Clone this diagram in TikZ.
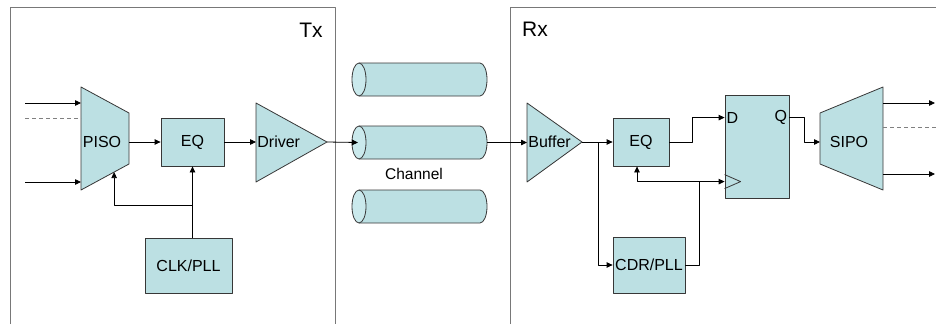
\documentclass[tikz,border=0pt]{standalone}
\usepackage{fontspec}
\setmainfont{Liberation Sans}
\usetikzlibrary{arrows.meta,calc}
\definecolor{blockfill}{RGB}{188,224,227}
\definecolor{chanend}{RGB}{202,233,236}
\definecolor{edge}{RGB}{55,55,55}
\definecolor{frame}{RGB}{120,120,120}
\begin{document}
\begin{tikzpicture}[x=1pt,y=-1pt,line join=round,line width=.8pt,
  font=\fontsize{16}{19}\selectfont,
  blk/.style={draw=edge,fill=blockfill,inner sep=0pt},
  arr/.style={-{Triangle[length=6pt,width=5.5pt]}},
  bus/.style={gray,dash pattern=on 4pt off 3pt},
  boxline/.style={draw=frame}]
\useasboundingbox (0,0) rectangle (936,324);
% Tx and Rx frames
\draw[boxline] (10,324) |- (335,7) -- (335,324);
\draw[boxline] (510,324) |- (936,7);
\node (tx) at (311,30) {\fontsize{21}{24}\selectfont Tx};
\node (rx) at (535,29) {\fontsize{21}{24}\selectfont Rx};
% Tx side
\coordinate (pisoA) at (81,87);
\coordinate (pisoB) at (129,113);
\coordinate (pisoC) at (129,164);
\coordinate (pisoD) at (81,190);
\draw[blk] (pisoA) -- (pisoB) -- (pisoC) -- (pisoD) -- cycle;
\node (piso) at (102,142) {PISO};
\coordinate (in1) at (25,103);
\coordinate (in2) at (25,118);
\coordinate (in3) at (25,182);
\draw[arr] (in1) -- (in1 -| pisoA);
\draw[bus] (in2) -- (in2 -| pisoA);
\draw[arr] (in3) -- (in3 -| pisoA);
\node[blk,minimum width=63pt,minimum height=48pt] (eqt) at (192.5,142) {EQ};
\draw[arr] (pisoB |- piso) -- (eqt);
\coordinate (drvA) at (256,103);
\coordinate (drvT) at (327,142);
\coordinate (drvB) at (256,182);
\draw[blk] (drvA) -- (drvT) -- (drvB) -- cycle;
\node[anchor=west,inner sep=0pt] (drv) at (257,142) {Driver};
\draw[arr] (eqt) -- (drvA |- eqt);
\node[blk,minimum width=87pt,minimum height=55pt] (clk) at (188.5,265.5) {CLK/PLL};
\draw[arr] (eqt.south |- clk.north) -- (eqt.south);
\coordinate (clkbr) at ($(eqt.south |- clk.north)+(0,-32)$);
\draw[arr] (clkbr) -| ($(pisoD)!0.69!(pisoC)$);
% channel
\foreach \n/\y in {ch1/79.5,ch2/142.5,ch3/206.5}{
  \draw[blk] (359,\y-16.5) -- (480,\y-16.5)
    arc[start angle=90,end angle=-90,x radius=7pt,y radius=16.5pt] -- (359,\y+16.5);
  \draw[draw=edge,fill=chanend] (359,\y) ellipse[x radius=7pt,y radius=16.5pt];
  \coordinate (\n) at (419.5,\y);
}
\draw[arr] (drvT) -- ($(ch2)+(-61.5,0)$);
\node (chlbl) at (414,174) {\fontsize{15.5}{18}\selectfont Channel};
% Rx side
\coordinate (bufA) at (527,103);
\coordinate (bufT) at (582,142);
\coordinate (bufB) at (527,182);
\draw[blk] (bufA) -- (bufT) -- (bufB) -- cycle;
\node[anchor=west,inner sep=0pt] (buf) at (528,142) {Buffer};
\draw[arr] ($(ch2)+(67.5,0)$) -- (bufA |- ch2);
\node[blk,minimum width=56pt,minimum height=48pt] (eqr) at (641,142) {EQ};
\coordinate (rxjn) at (598,142);
\draw[arr] (bufT) -- (eqr);
\node[blk,minimum width=72pt,minimum height=56pt] (cdr) at (649,265) {CDR/PLL};
\draw[arr] (rxjn) |- (cdr);
\node[blk,minimum width=64pt,minimum height=103pt] (ff) at (757,146.5) {};
\coordinate (ffd) at ($(ff.north west)+(0,23)$);
\coordinate (ffq) at ($(ff.north east)+(0,23)$);
\coordinate (ffclk) at ($(ff.north west)+(0,87)$);
\node[anchor=west,inner sep=1.5pt] (dlbl) at (ffd) {D};
\node[anchor=east,inner sep=2pt] (qlbl) at (ffq) {Q};
\draw[edge] ($(ffclk)+(0,-7)$) -- ($(ffclk)+(16,0)$) -- ($(ffclk)+(0,7)$);
\draw[arr] (eqr.east) -- ++(23,0) |- (ffd);
\path ($(cdr.east)+(14,0)$) coordinate (cdrbend);
\coordinate (clkjn) at (cdrbend |- ffclk);
\draw[arr] (cdr.east) -- (cdrbend) |- (ffclk);
\draw[arr] (clkjn) -| ([xshift=-4pt]eqr.south);
\coordinate (sipoA) at (820,113);
\coordinate (sipoB) at (883,87);
\coordinate (sipoC) at (883,190);
\coordinate (sipoD) at (820,164);
\draw[blk] (sipoA) -- (sipoB) -- (sipoC) -- (sipoD) -- cycle;
\node (sipo) at (849,142) {SIPO};
\draw[arr] (ffq) -- ++(15,0) |- (sipoA |- sipo);
\coordinate (out1) at (935,103);
\coordinate (out2) at (936,127);
\coordinate (out3) at (935,174);
\draw[arr] (out1 -| sipoB) -- (out1);
\draw[bus] (out2 -| sipoB) -- (out2);
\draw[arr] (out3 -| sipoB) -- (out3);
\end{tikzpicture}
\end{document}
